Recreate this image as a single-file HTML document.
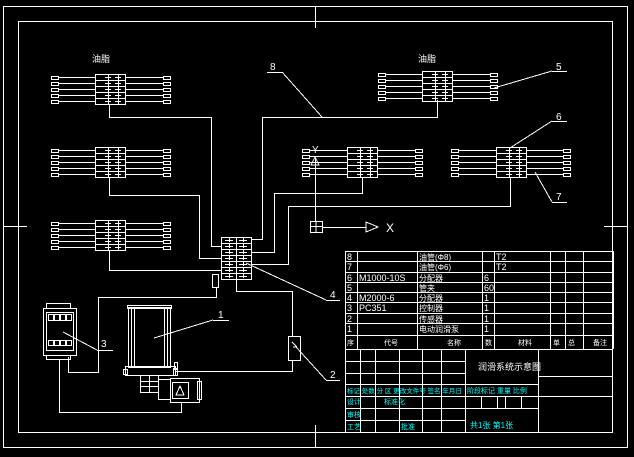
<!DOCTYPE html>
<html><head><meta charset="utf-8"><style>
html,body{margin:0;padding:0;background:#000;}
svg{display:block}
text{font-family:"Liberation Sans","Noto Sans CJK SC",sans-serif;fill:#fff}
</style></head><body>
<svg id="s" width="634" height="457" viewBox="0 0 634 457" xmlns="http://www.w3.org/2000/svg" stroke="#fff" stroke-width="1" fill="none" shape-rendering="crispEdges">
<rect x="3.5" y="6.5" width="624" height="441"/>
<rect x="18.5" y="21.5" width="594" height="411"/>
<path d="M315.5 6v22M315.5 425v22M3 226.5h24M604 226.5h24"/>
<g id="g"></g>
</svg>
<script>
var g=document.getElementById('g'),h='';
function L(d){h+='<path d="'+d+'"/>';}
function R(x,y,w,hh){h+='<rect x="'+(x+.5)+'" y="'+(y+.5)+'" width="'+w+'" height="'+hh+'"/>';}
function T(x,y,t,s,c){h+='<text x="'+x+'" y="'+y+'" font-size="'+(s||10)+'" stroke="none" style="fill:'+(c||'#fff')+'">'+t+'</text>';}
function dist(bx,by,lx,rx){
  R(bx,by,30,30);
  for(var i=0;i<5;i++){var y=by+3+i*6;
    L('M'+(lx+7)+' '+(y+.5)+'H'+bx+'M'+(bx+30)+' '+(y+.5)+'H'+(rx-7));
    R(lx,y-1,7,3);R(rx-7,y-1,7,3);
    if(i<4)L('M'+bx+' '+(by+6+i*6+.5)+'h30');
    L('M'+(bx+10)+' '+(y+.5)+'h6M'+(bx+20)+' '+(y+.5)+'h6M'+(bx+13.5)+' '+(y-2)+'v5M'+(bx+23.5)+' '+(y-2)+'v5');
  }
}
dist(95,74,51,170);dist(95,147,51,170);dist(95,220,51,170);
dist(422,71,378,497);dist(347,147,302,422);dist(496,147,451,570);
T(92,62,'油脂',9);T(418,62,'油脂',9);
R(221,237,30,42);for(var i=1;i<7;i++)L('M221 '+(237+i*6+.5)+'h30');L('M236.5 237v42');
for(var i=0;i<7;i++){var y=240+i*6;L('M'+225+' '+(y+.5)+'h8M'+239+' '+(y+.5)+'h8M229.5 '+(y-2)+'v4M243.5 '+(y-2)+'v4');}
L('M109.5 104v13.5H211.5V246.5H221');
L('M109.5 177v18.5H199.5V258.5H221');
L('M109.5 250v20.5H221');
L('M251 239.5H262.5V117.5H437.5V100');
L('M251 252.5H274.5V193.5H362.5V177');
L('M251 264.5H288.5V206.5H510.5V177');
T(312,153,'Y',10);L('M311 165l4 -8l4 8z');L('M315.5 157V221');R(310,221,12,11);L('M316 221v11M310 226.5h12M322 227.5H366');
L('M366 222l12 5l-12 5z');T(386,232,'X',12);
L('M267 72.5h15M282 72l40 45');T(270,70,'8',10);
L('M552 71.5h15M552 71l-58 17');T(556,70,'5',10);
L('M552 121.5h15M552 121l-42 27');T(556,120,'6',10);
L('M552 202.5h15M552 202l-17 -30');T(556,200,'7',10);
L('M326 300.5h14M326 300l-80 -37');T(330,298,'4',10);
L('M326 380.5h14M326 380l-30 -33');T(330,378,'2',10);
L('M97 350.5h16M97 350l-34 -18');T(101,347,'3',10);
L('M213 320.5h16M213 320l-59 18');T(218,318,'1',10);
R(212,274,6,13);L('M216.5 287v10.5H98.5V372.5H68.5V357');
L('M236.5 279v12.5H292.5V336');R(288,336,12,24);L('M292 342l5 5M293 347h4');
L('M292.5 360v11.5H175');
R(43,308,33,47);R(46,312,27,38);R(46,303,24,5);R(46,355,24,4);
for(var i=0;i<4;i++){R(48+i*6,314,5,6);R(48+i*6,340,5,5);}
L('M59.5 359v53.5H181.5V402');
R(128,307,42,60);R(127,305,44,3);L('M131.5 308v58M134.5 308v58M164.5 308v58M167.5 308v58');
R(125,366,50,9);R(123,369,4,5);R(173,368,4,7);R(174,362,3,7);
R(140,375,18,17);L('M140 381.5h18M140 386.5h18M149.5 375v17');
R(158,379,12,20);R(170,378,29,24);R(172,382,16,16);L('M176 395l4 -9l4 9z');R(197,381,4,18);
var cols=[345,357,417,482,494,550,565,583,613],rows=[251,261,272,282,292,302,313,323,335,349];
for(var i=0;i<rows.length;i++)L('M345 '+(rows[i]+.5)+'H613');
cols.forEach(function(c){L('M'+(c+.5)+' 251V349');});
var nm=['8','7','6','5','4','3','2','1'],cd=['','','M1000-10S','','M2000-6','PC351','',''],
 n2=['油管(Φ8)','油管(Φ6)','分配器','管夹','分配器','控制器','传感器','电动润滑泵'],q=['','','6','60','1','1','1','1'],m=['T2','T2','','','','','',''];
for(var i=0;i<8;i++){var y=rows[i]+9;T(347,y,nm[i],9);T(359,y,cd[i],9);T(419,y,n2[i],8);T(484,y,q[i],9);T(496,y,m[i],9);}
T(347,345,'序',7);T(384,345,'代号',7);T(447,345,'名称',7);T(485,345,'数',7);T(518,345,'材料',7);T(553,345,'单',7);T(568,345,'总',7);T(593,345,'备注',7);
var tr=[349,361,373,384,396,408,420,432];
tr.forEach(function(y){L('M345 '+(y+.5)+'H465');});
[345,360,375,399,422,441,465].forEach(function(c){L('M'+(c+.5)+' 349V432');});
L('M465 384.5H538M465 396.5H538M465 408.5H538M465 432.5H613M538.5 349V432M538 376.5H613M538 396.5H613');
[481,497,505,521].forEach(function(c){L('M'+(c+.5)+' 396V408');});
T(347,393,'标记 处数 分 区 更改文件号 签名 年月日',6.5,'#0ff');
T(347,404,'设计',7,'#0ff');T(384,404,'标准化',7,'#0ff');T(347,417,'审核',7,'#0ff');T(347,429,'工艺',7,'#0ff');T(401,429,'批准',7,'#0ff');
T(467,393,'阶段标记 重量 比例',7,'#0ff');T(470,428,'共1张 第1张',8,'#0ff');
T(478,370,'润滑系统示意图',9);
g.innerHTML=h;
</script>
</body></html>
